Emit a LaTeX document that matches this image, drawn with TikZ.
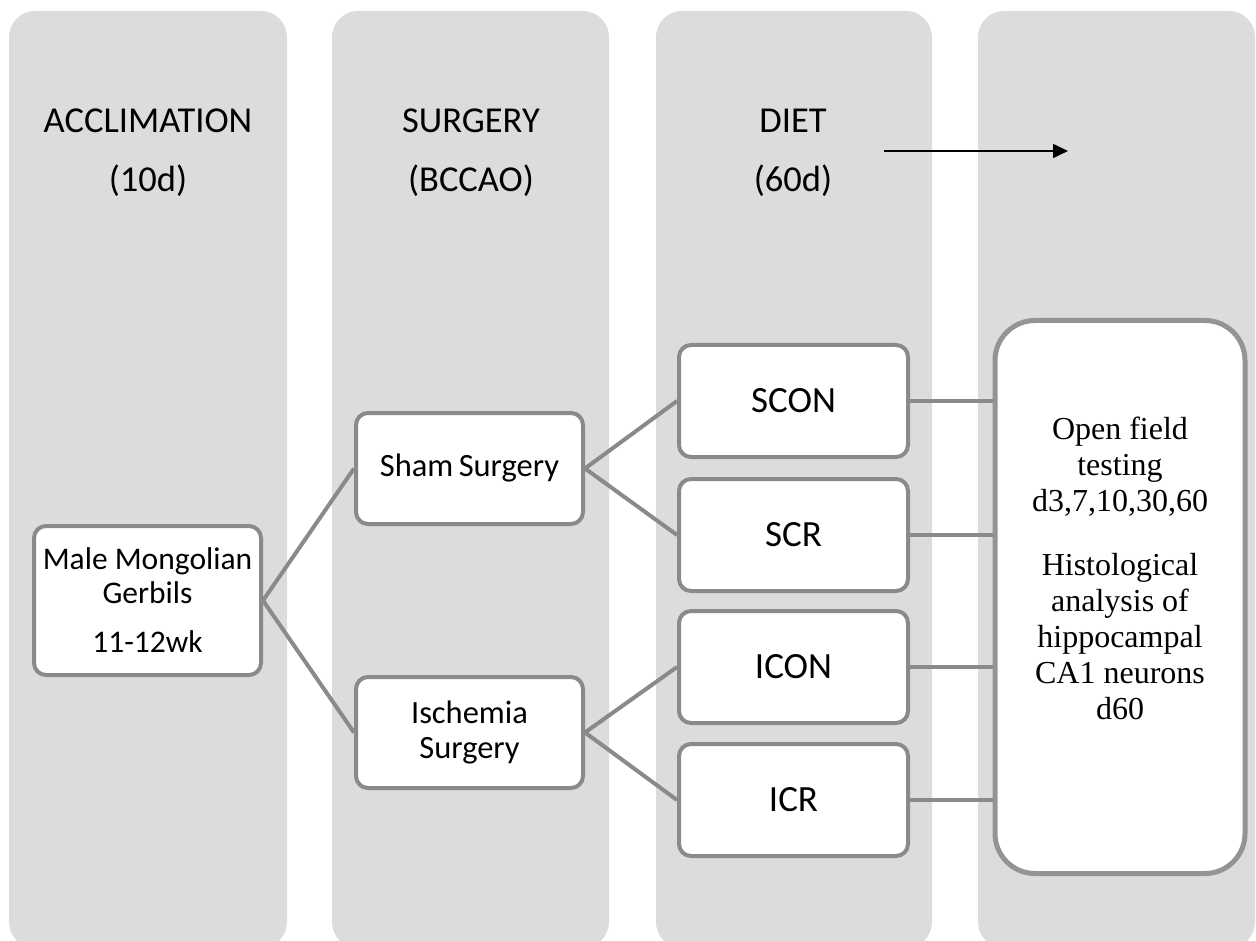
\documentclass[tikz,border=0pt]{standalone}
\usepackage{fontspec}
\setmainfont{Carlito}
\newfontfamily\serifbox{Liberation Serif}
\usetikzlibrary{arrows.meta}
\definecolor{colbg}{HTML}{DCDCDC}
\definecolor{edgegray}{HTML}{8A8A8A}
\definecolor{resgray}{HTML}{949494}
\begin{document}
\begin{tikzpicture}[x=1pt,y=-1pt,
  column/.style={fill=colbg, rounded corners=26pt},
  hdr/.style={anchor=base, inner sep=0pt, font=\fontsize{36.5}{40}\selectfont},
  box/.style={draw=edgegray, line width=4pt, fill=white, rounded corners=12pt,
    minimum width=227pt, minimum height=111pt, inner sep=0pt, align=center,
    font=\fontsize{32.5}{35}\selectfont},
  dietbox/.style={box, minimum width=229pt, minimum height=112pt, font=\fontsize{37}{40}\selectfont},
  conn/.style={draw=edgegray, line width=4pt},
  resbox/.style={draw=resgray, line width=5pt, fill=white, rounded corners=40pt,
    minimum width=250pt, minimum height=553pt, inner sep=0pt},
  restext/.style={align=center, inner sep=0pt, font=\serifbox\fontsize{32}{36}\selectfont}
]
\useasboundingbox (0,0) rectangle (1256,941);
\clip (0,0) rectangle (1256,941);
% columns
\fill[column] (9,11) rectangle (287,948);
\fill[column] (332,11) rectangle (609,948);
\fill[column] (656,11) rectangle (932,948);
\fill[column] (978,11) rectangle (1255,948);
% headers
\node[hdr] (h1a) at (148,133) {ACCLIMATION};
\node[hdr] (h1b) at (148,192) {(10d)};
\node[hdr] (h2a) at (471,133) {SURGERY};
\node[hdr] (h2b) at (471,192) {(BCCAO)};
\node[hdr] (h3a) at (793,133) {DIET};
\node[hdr] (h3b) at (793,192) {(60d)};
% arrow
\coordinate (arS) at (884,151);
\coordinate (arE) at (1068,151);
\draw[line width=1.6pt, -{Triangle[length=15pt,width=14pt]}] (arS) -- (arE);
% boxes
\node[box, minimum height=149pt, font=\fontsize{31.5}{34}\selectfont] (ger) at (147.5,600.5) {Male Mongolian\\Gerbils\\[15pt]11-12wk};
\node[box] (sham) at (469.5,468.5) {Sham\hspace{-2pt} Surgery};
\node[box] (isch) at (469.5,732.5) {Ischemia\\Surgery};
\node[dietbox] (scon) at (793.5,401) {SCON};
\node[dietbox] (scr) at (793.5,535) {SCR};
\node[dietbox] (icon) at (793.5,667) {ICON};
\node[dietbox] (icr) at (793.5,800) {ICR};
\node[resbox] (res) at (1120,597) {};
\node[restext] (rest) at (1120,568) {Open field\\testing\\d3,7,10,30,60\\[28pt]Histological\\analysis of\\hippocampal\\CA1 neurons\\d60};
% connectors
\draw[conn] (ger.east) -- (sham.west);
\draw[conn] (ger.east) -- (isch.west);
\draw[conn] (sham.east) -- (scon.west);
\draw[conn] (sham.east) -- (scr.west);
\draw[conn] (isch.east) -- (icon.west);
\draw[conn] (isch.east) -- (icr.west);
\draw[conn] (scon.east) -- (scon.east -| res.west);
\draw[conn] (scr.east) -- (scr.east -| res.west);
\draw[conn] (icon.east) -- (icon.east -| res.west);
\draw[conn] (icr.east) -- (icr.east -| res.west);
\end{tikzpicture}
\end{document}
